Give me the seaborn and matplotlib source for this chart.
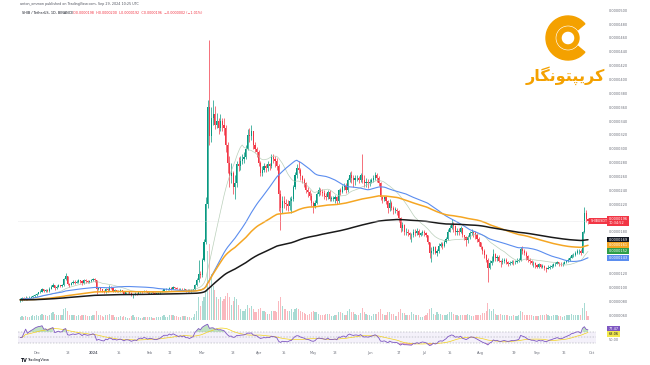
import numpy as np
import pandas as pd
import matplotlib
matplotlib.use("Agg")
import matplotlib.pyplot as plt
from matplotlib.patches import Wedge
from matplotlib.transforms import blended_transform_factory
import seaborn as sns

sns.set_style("white")
plt.rcParams['font.family'] = ['DejaVu Sans']

# SHIB / USDT daily candles, prices in units of 1e-7 USDT
start_date = "2023-11-22"
first_open = 81
close = [
    82, 84, 83, 85, 84, 85, 86, 87, 89,
    91, 93, 94, 97, 95, 96, 95, 98, 101, 104, 99, 101, 103, 102, 103, 112, 116, 105, 104, 106, 108, 107, 108, 110, 109, 106, 110, 109, 108, 109, 110,
    112, 110, 97, 99, 97, 95, 94, 98, 96, 100, 99, 95, 96, 94, 95, 96, 94, 91, 93, 93, 92, 89, 90, 91, 90, 93, 94, 93, 95, 94, 92,
    93, 93, 92, 91, 91, 92, 93, 95, 97, 97, 97, 99, 98, 100, 99, 98, 97, 98, 97, 98, 96, 96, 95, 96, 97, 104, 110, 120, 118,
    140, 165, 220, 360, 318, 345, 350, 335, 340, 330, 340, 335, 330, 305, 280, 260, 265, 245, 250, 278, 275, 283, 285, 288, 300, 320, 318, 325, 305, 300, 295,
    280, 265, 270, 275, 272, 278, 275, 288, 285, 282, 275, 235, 215, 225, 222, 220, 218, 225, 228, 245, 262, 272, 270, 260, 255, 250, 240, 238, 232, 222,
    218, 222, 235, 240, 238, 236, 232, 230, 238, 228, 228, 228, 230, 225, 240, 238, 245, 246, 240, 255, 262, 258, 255, 258, 258, 255, 262, 255, 250, 252, 250,
    252, 255, 258, 262, 258, 250, 230, 228, 230, 225, 215, 222, 215, 212, 212, 210, 200, 185, 190, 180, 180, 178, 175, 175, 180, 178, 182, 175, 178, 180,
    178, 175, 165, 150, 152, 158, 150, 152, 160, 162, 160, 165, 170, 180, 185, 190, 188, 180, 182, 180, 185, 175, 172, 168, 172, 178, 180, 178, 175, 170, 165,
    158, 152, 146, 140, 128, 135, 138, 148, 142, 144, 138, 136, 138, 140, 136, 134, 135, 137, 136, 137, 138, 140, 155, 152, 150, 145, 140, 138, 135, 135, 132,
    130, 133, 130, 131, 128, 126, 128, 130, 131, 133, 134, 136, 134, 133, 134, 136, 138, 140, 142, 146, 147, 150, 152, 152, 150, 180, 207, 198, 196,
]
high = [
    84, 86, 86, 87, 86, 87, 88, 89, 91,
    92, 94, 96, 99, 98, 98, 97, 100, 104, 106, 104, 103, 105, 104, 105, 114, 121, 117, 107, 108, 110, 110, 110, 112, 111, 110, 112, 112, 110, 111, 112,
    114, 114, 111, 100, 99, 98, 96, 99, 99, 103, 102, 100, 97, 96, 96, 98, 96, 95, 94, 94, 94, 93, 91, 93, 92, 94, 95, 95, 96, 96, 95,
    94, 94, 94, 93, 92, 93, 94, 96, 98, 99, 98, 100, 100, 102, 101, 100, 99, 99, 99, 99, 98, 97, 97, 97, 98, 105, 113, 140, 124,
    142, 170, 230, 370, 457, 360, 370, 362, 352, 345, 350, 345, 345, 335, 310, 290, 280, 268, 262, 282, 288, 290, 292, 295, 305, 328, 330, 335, 326, 310, 302,
    298, 282, 275, 280, 278, 282, 280, 292, 292, 290, 286, 278, 240, 232, 232, 228, 226, 230, 232, 248, 266, 278, 282, 272, 262, 258, 252, 245, 240, 236,
    224, 226, 238, 245, 244, 242, 240, 236, 240, 240, 232, 232, 234, 232, 242, 244, 248, 250, 250, 258, 266, 268, 262, 262, 262, 260, 265, 292, 262, 258, 256,
    256, 258, 262, 266, 265, 260, 252, 232, 232, 232, 226, 228, 224, 218, 216, 215, 212, 202, 195, 192, 185, 184, 180, 178, 184, 184, 185, 184, 180, 183,
    183, 180, 176, 166, 158, 160, 160, 155, 164, 166, 165, 168, 172, 184, 190, 198, 195, 190, 186, 186, 188, 186, 176, 174, 175, 182, 184, 182, 182, 178, 172,
    162, 160, 155, 148, 142, 140, 145, 155, 150, 146, 146, 140, 142, 143, 142, 138, 138, 140, 140, 140, 142, 142, 158, 160, 155, 152, 146, 142, 140, 138, 136,
    134, 135, 134, 133, 132, 130, 132, 132, 133, 135, 136, 138, 137, 136, 136, 138, 140, 142, 145, 148, 150, 152, 156, 156, 155, 182, 216, 212, 200,
]
low = [
    79, 81, 82, 82, 82, 83, 84, 85, 86,
    88, 90, 92, 93, 93, 94, 93, 94, 97, 100, 96, 98, 100, 100, 101, 102, 110, 103, 101, 103, 105, 105, 106, 107, 107, 104, 105, 107, 106, 107, 108,
    109, 108, 91, 96, 95, 94, 92, 92, 93, 95, 97, 94, 94, 93, 93, 94, 93, 90, 90, 92, 91, 88, 84, 89, 89, 90, 92, 92, 93, 93, 91,
    91, 91, 91, 90, 90, 90, 91, 93, 95, 96, 96, 96, 96, 97, 97, 97, 96, 96, 96, 96, 94, 94, 94, 94, 95, 96, 102, 108, 113,
    115, 138, 162, 215, 305, 310, 335, 328, 330, 322, 325, 325, 320, 295, 265, 245, 250, 235, 228, 245, 268, 270, 278, 280, 285, 298, 310, 312, 300, 295, 288,
    275, 260, 260, 266, 266, 268, 270, 272, 280, 274, 270, 210, 183, 208, 215, 212, 210, 212, 208, 225, 242, 258, 265, 255, 250, 245, 236, 230, 226, 218,
    207, 215, 220, 232, 234, 232, 228, 226, 228, 225, 225, 224, 222, 220, 222, 234, 236, 240, 236, 238, 252, 250, 245, 248, 254, 250, 252, 250, 245, 245, 244,
    246, 250, 252, 255, 252, 246, 226, 222, 225, 220, 208, 210, 212, 206, 208, 205, 195, 180, 182, 176, 175, 174, 170, 166, 172, 174, 176, 172, 174, 176,
    174, 172, 162, 143, 137, 148, 148, 145, 150, 158, 156, 158, 164, 168, 180, 184, 180, 176, 175, 176, 178, 172, 168, 160, 164, 170, 175, 172, 170, 166, 160,
    155, 148, 142, 136, 108, 126, 132, 136, 138, 138, 136, 130, 133, 135, 134, 131, 132, 134, 132, 134, 135, 136, 138, 148, 146, 140, 136, 134, 132, 130, 128,
    128, 128, 128, 128, 125, 122, 126, 126, 128, 130, 131, 133, 131, 131, 131, 133, 135, 136, 138, 143, 144, 145, 148, 148, 146, 150, 178, 194, 192,
]
volume = [
    4, 5, 4, 5, 4, 4, 5, 6, 5,
    6, 5, 6, 8, 7, 6, 5, 7, 9, 10, 8, 6, 7, 6, 6, 14, 16, 12, 7, 6, 7, 6, 5, 6, 5, 6, 7, 6, 5, 5, 5,
    6, 6, 12, 7, 6, 5, 4, 7, 6, 8, 6, 7, 4, 4, 4, 5, 4, 5, 4, 3, 3, 5, 6, 4, 4, 4, 3, 3, 4, 4, 4,
    4, 4, 3, 3, 4, 4, 4, 5, 6, 4, 4, 6, 6, 6, 5, 5, 4, 4, 5, 5, 5, 4, 4, 3, 4, 8, 12, 30, 18,
    25, 30, 40, 90, 100, 60, 45, 40, 30, 28, 30, 25, 28, 32, 35, 30, 20, 25, 30, 28, 20, 15, 12, 12, 15, 20, 16, 18, 14, 10, 10,
    14, 16, 12, 12, 10, 8, 8, 12, 12, 12, 10, 25, 30, 18, 14, 14, 12, 12, 14, 10, 14, 16, 15, 12, 10, 9, 8, 6, 8, 10,
    12, 10, 10, 8, 6, 7, 7, 8, 8, 8, 5, 5, 7, 7, 10, 10, 9, 7, 6, 12, 14, 10, 10, 8, 6, 6, 9, 16, 10, 8, 7,
    6, 5, 8, 8, 8, 10, 14, 8, 6, 7, 10, 10, 8, 8, 5, 5, 10, 14, 9, 9, 7, 6, 6, 10, 8, 6, 6, 7, 4, 4,
    5, 6, 9, 14, 16, 8, 7, 10, 8, 8, 7, 7, 6, 8, 10, 10, 8, 7, 6, 5, 6, 7, 7, 7, 8, 6, 5, 5, 6, 6, 6,
    7, 9, 9, 12, 22, 14, 12, 14, 8, 6, 6, 8, 7, 6, 7, 6, 5, 5, 6, 5, 5, 6, 12, 10, 6, 6, 7, 6, 6, 5, 5,
    5, 5, 6, 7, 6, 8, 6, 5, 5, 6, 6, 6, 5, 5, 4, 5, 6, 6, 7, 8, 6, 6, 6, 6, 6, 16, 22, 12, 5,
]

tick_dates = ["2023-12-01", "2023-12-18", "2024-01-01", "2024-01-15", "2024-02-01", "2024-02-12",
              "2024-03-01", "2024-03-18", "2024-04-01", "2024-04-15", "2024-05-01", "2024-05-13",
              "2024-06-01", "2024-06-17", "2024-07-01", "2024-07-15", "2024-08-01", "2024-08-19",
              "2024-09-01", "2024-09-16", "2024-10-01"]
tick_names = ["Dec", "18", "2024", "15", "Feb", "12", "Mar", "18", "Apr", "15", "May", "13",
              "Jun", "17", "Jul", "15", "Aug", "19", "Sep", "16", "Oct"]

SCALE = 1e-7
df = pd.DataFrame({"close": close, "high": high, "low": low, "volume": volume},
                  index=pd.date_range(start_date, periods=len(close), freq="D"))
df[["close", "high", "low"]] *= SCALE
df["open"] = df["close"].shift(1).fillna(first_open * SCALE)
n = len(df)
x = np.arange(n)

# indicators drawn on the chart
ema200 = df.close.ewm(span=200, adjust=False).mean()
ema100 = df.close.ewm(span=100, adjust=False).mean()
sma50 = df.close.rolling(50, min_periods=1).mean()
sma20 = df.close.rolling(20, min_periods=1).mean()
delta = df.close.diff().fillna(0)
gain = delta.clip(lower=0).ewm(alpha=1 / 14, adjust=False).mean()
loss = (-delta.clip(upper=0)).ewm(alpha=1 / 14, adjust=False).mean()
rsi = 100 - 100 / (1 + gain / loss.replace(0, np.nan))
rsi = rsi.fillna(50)
rsi_ma = rsi.rolling(14, min_periods=1).mean()

GREEN = "#089981"
RED = "#f23645"
FS = 2.5

W, H = 650, 365
def rect(l, t, r, b):
    return [l / W, 1 - b / H, (r - l) / W, (b - t) / H]

fig = plt.figure(figsize=(6.5, 3.65), dpi=100)
ax_vol = fig.add_axes(rect(18, 0, 596, 320))
ax = fig.add_axes(rect(18, 0, 596, 320), sharex=ax_vol)
ax.set_facecolor("none")
ax_rsi = fig.add_axes(rect(18, 322, 596, 348), sharex=ax_vol)

ax_vol.set_xlim(-1.2, 316.4)

# volume
up = (df.close >= df.open).values
ax_vol.bar(x, df.volume, width=0.62, color=np.where(up, GREEN, RED), alpha=0.35, lw=0)
ax_vol.set_ylim(0, 420)
ax_vol.axis("off")

# candles
col = np.where(up, GREEN, RED)
body_lo = np.minimum(df.open, df.close)
body_hi = np.maximum(df.open, df.close)
ax.vlines(x, np.minimum(df.low, body_lo), np.maximum(df.high, body_hi), colors=col, lw=0.5)
ax.bar(x, np.maximum(body_hi - body_lo, 0.5 * SCALE), bottom=body_lo, width=0.62, color=col, lw=0)

sns.lineplot(x=x, y=sma20.values, ax=ax, color="#a9c4a9", lw=0.5, alpha=0.8)
sns.lineplot(x=x, y=sma50.values, ax=ax, color="#5b8def", lw=0.8)
sns.lineplot(x=x, y=ema100.values, ax=ax, color="#f5a623", lw=1.1)
sns.lineplot(x=x, y=ema200.values, ax=ax, color="#1a1a1a", lw=1.1)

last = df.iloc[-1]
ax.axhline(last.close, color="#d9d9de", lw=0.4, ls=(0, (1, 1)))

YTOP, YBOT = 514.7, 52.9          # price (1e-7) at top / bottom pixel row of the pane
ax.set_ylim(YBOT * SCALE, YTOP * SCALE)
def to_px(v):
    return (YTOP - v / SCALE) / (YTOP - YBOT) * 320
def from_px(p):
    return (YTOP - p / 320 * (YTOP - YBOT)) * SCALE

# coloured price tags on the right scale, nudged apart like the platform does
tags = [(ema200.iloc[-1], "#131722"), (ema100.iloc[-1], "#f5a623"),
        (sma20.iloc[-1], "#2e9e49"), (sma50.iloc[-1], "#5b8def")]
tags.sort(key=lambda t: -t[0])
red_px = to_px(last.close)
placed = []
prev = red_px + 7.5
for val, bg in tags:
    p = max(to_px(val), prev + 5.6)
    placed.append((p, val, bg))
    prev = p
busy = [(red_px - 5, red_px + 6)] + [(p - 3, p + 3) for p, _, _ in placed]

price_ticks = np.arange(60, 501, 20)
keep = [v for v in price_ticks if not any(a - 2 < to_px(v * SCALE) < b + 2 for a, b in busy)]
ax.yaxis.tick_right()
ax.set_yticks([v * SCALE for v in keep])
ax.set_yticklabels([f"{v * SCALE:.7f}" for v in keep], fontsize=FS, color="#6a6d78")
ax.tick_params(axis="y", length=0, pad=9)
ax.tick_params(axis="x", bottom=False, labelbottom=False)
for s in ax.spines.values():
    s.set_visible(False)
ax.set_xlabel("")
ax.set_ylabel("")

ytrans = blended_transform_factory(ax.transAxes, ax.transData)
XA = 1.0215
for p, val, bg in placed:
    ax.text(XA, from_px(p), f"{val:.7f}", transform=ytrans, fontsize=FS, color="white",
            va="center", ha="left", bbox=dict(boxstyle="square,pad=0.3", fc=bg, ec="none"))
ax.text(XA, last.close, f"{last.close:.7f}\n10:34:52", transform=ytrans, fontsize=FS,
        color="white", va="center", ha="left", linespacing=1.0,
        bbox=dict(boxstyle="square,pad=0.3", fc=RED, ec="none"))
ax.text(1.0195, last.close, "SHIBUSDT", transform=ytrans, fontsize=2.3, color="white",
        va="center", ha="right", bbox=dict(boxstyle="square,pad=0.3", fc=RED, ec="none"))

# RSI pane
ax_rsi.axhspan(30, 70, color="#7e57c2", alpha=0.08, lw=0)
for lvl in (70, 50, 30):
    ax_rsi.axhline(lvl, color="#9598a1", lw=0.35, ls=(0, (3, 3)))
ax_rsi.fill_between(x, 70, rsi.values, where=rsi.values > 70, color="#4caf50", alpha=0.35, lw=0)
ax_rsi.fill_between(x, 30, rsi.values, where=rsi.values < 30, color="#f23645", alpha=0.35, lw=0)
sns.lineplot(x=x, y=rsi_ma.values, ax=ax_rsi, color="#f2d21b", lw=0.5)
sns.lineplot(x=x, y=rsi.values, ax=ax_rsi, color="#7e57c2", lw=0.6)
ax_rsi.set_ylim(12, 106)
ax_rsi.set_yticks([])
for s in ax_rsi.spines.values():
    s.set_visible(False)
ax_rsi.set_ylabel("")
rtrans = blended_transform_factory(ax_rsi.transAxes, ax_rsi.transData)
ax_rsi.text(XA, 82, f"{rsi.iloc[-1]:.2f}", transform=rtrans, fontsize=FS, color="white",
            va="center", bbox=dict(boxstyle="square,pad=0.3", fc="#7e57c2", ec="none"))
ax_rsi.text(XA, 62, f"{rsi_ma.iloc[-1]:.2f}", transform=rtrans, fontsize=FS, color="#131722",
            va="center", bbox=dict(boxstyle="square,pad=0.3", fc="#f2e94e", ec="none"))
ax_rsi.text(XA, 42, "50.00", transform=rtrans, fontsize=FS, color="#6a6d78", va="center")

tick_pos = [(pd.Timestamp(d) - df.index[0]).days for d in tick_dates]
ax_rsi.set_xticks(tick_pos)
ax_rsi.set_xticklabels(tick_names, fontsize=FS, color="#6a6d78")
ax_rsi.tick_params(axis="x", length=0, pad=2.5)
for lab in ax_rsi.get_xticklabels():
    if lab.get_text() == "2024":
        lab.set_fontweight("bold")

# header
fig.text(20 / W, 1 - 4.5 / H, "anton_ommon published on TradingView.com, Sep 29, 2024 10:25 UTC",
         fontsize=2.4, color="#50535e", va="center")
fig.text(21.5 / W, 1 - 12.5 / H, "SHIB / TetherUS, 1D, BINANCE", fontsize=2.4, color="#131722", va="center")
chg = df.close.iloc[-1] - df.close.iloc[-2]
ohlc = (f"O{last.open:.7f}  H{last.high:.7f}  L{last.low:.7f}  C{last.close:.7f}  "
        f"{chg:+.7f} ({chg / df.close.iloc[-2] * 100:+.2f}%)").replace("-", "\u2212")
fig.text(73 / W, 1 - 12.5 / H, ohlc, fontsize=2.4, color=RED, va="center")

# watermark logo
ax_logo = fig.add_axes(rect(520, 10, 612, 95))
ax_logo.set_xlim(0, 92)
ax_logo.set_ylim(85, 0)
ax_logo.axis("off")
ax_logo.add_patch(Wedge((48, 28), 22, 40, 320, width=9, color="#f4a100"))
ax_logo.add_patch(Wedge((48, 28), 11, 0, 360, width=4, color="#f4a100"))
ax_logo.text(45, 66, "\uFEAD\uFE8E\uFB95\uFEE7\uFEEE\uFE98\uFB59\uFBFE\uFEAE\uFB90",
             fontsize=11.5, fontweight="bold", color="#f4a100", ha="center", va="center")

fig.text(20 / W, 1 - 360 / H, "TV", fontsize=3.4, fontweight="bold", color="#131722", va="center")
fig.text(27 / W, 1 - 360 / H, "TradingView", fontsize=2.6, color="#131722", va="center")

plt.savefig("out.png", dpi=100)
